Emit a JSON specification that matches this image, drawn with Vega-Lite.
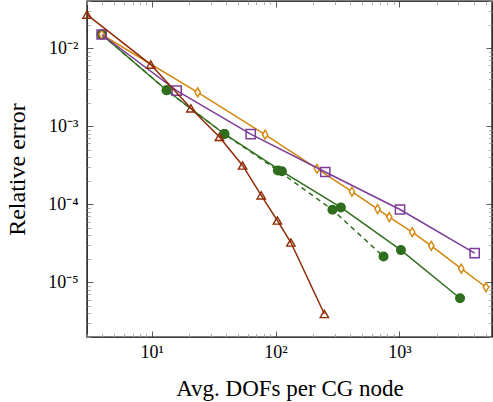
{
  "$schema": "https://vega.github.io/schema/vega-lite/v6.json",
  "width": 405,
  "height": 336,
  "autosize": "none",
  "padding": {"left": 87, "top": 1, "right": 1, "bottom": 65},
  "config": {
    "view": {"stroke": "black", "strokeWidth": 1.4},
    "font": "Liberation Serif",
    "axis": {"domain": false, "grid": false, "labelFont": "Liberation Serif", "titleFont": "Liberation Serif", "labelColor": "black", "titleColor": "black", "titleFontWeight": "normal"}
  },
  "data": {
    "values": [
      {"s": "green", "x": 3.94, "y": 0.0149},
      {"s": "green", "x": 13.2, "y": 0.00288},
      {"s": "green", "x": 38.6, "y": 0.000794},
      {"s": "green", "x": 112.5, "y": 0.000264},
      {"s": "green", "x": 337, "y": 0.000091},
      {"s": "green", "x": 1030, "y": 0.0000259},
      {"s": "green", "x": 3091, "y": 0.00000627},
      {"s": "greendash", "x": 3.94, "y": 0.0149},
      {"s": "greendash", "x": 13.2, "y": 0.00288},
      {"s": "greendash", "x": 38.6, "y": 0.000794},
      {"s": "greendash", "x": 104.4, "y": 0.000271},
      {"s": "greendash", "x": 288, "y": 0.000085},
      {"s": "greendash", "x": 745, "y": 0.0000214},
      {"s": "orange", "x": 3.94, "y": 0.0149},
      {"s": "orange", "x": 23.5, "y": 0.00271},
      {"s": "orange", "x": 82.4, "y": 0.000778},
      {"s": "orange", "x": 216, "y": 0.000285},
      {"s": "orange", "x": 414, "y": 0.000145},
      {"s": "orange", "x": 667, "y": 0.0000867},
      {"s": "orange", "x": 829, "y": 0.0000685},
      {"s": "orange", "x": 1271, "y": 0.000044},
      {"s": "orange", "x": 1811, "y": 0.0000294},
      {"s": "orange", "x": 3164, "y": 0.000015},
      {"s": "orange", "x": 5010, "y": 0.00000867},
      {"s": "purple", "x": 3.94, "y": 0.0149},
      {"s": "purple", "x": 15.9, "y": 0.00285},
      {"s": "purple", "x": 63.0, "y": 0.000789},
      {"s": "purple", "x": 252, "y": 0.000259},
      {"s": "purple", "x": 1012, "y": 0.0000857},
      {"s": "purple", "x": 4056, "y": 0.0000237},
      {"s": "brown", "x": 3.0, "y": 0.0268},
      {"s": "brown", "x": 9.82, "y": 0.00614},
      {"s": "brown", "x": 20.7, "y": 0.00169},
      {"s": "brown", "x": 35.2, "y": 0.000728},
      {"s": "brown", "x": 54.2, "y": 0.000314},
      {"s": "brown", "x": 76.6, "y": 0.00013},
      {"s": "brown", "x": 103.5, "y": 0.0000619},
      {"s": "brown", "x": 133, "y": 0.0000324},
      {"s": "brown", "x": 248, "y": 0.00000394}
    ]
  },
  "layer": [
    {
      "transform": [{"filter": "datum.s == 'green'"}],
      "mark": {"type": "line", "color": "#2f6e1d", "strokeWidth": 1.5, "point": {"filled": true, "shape": "circle", "size": 100, "color": "#2f6e1d"}},
      "encoding": {
        "x": {"field": "x", "type": "quantitative", "scale": {"type": "log", "domain": [3, 5600], "nice": false},
          "axis": {"orient": "bottom", "ticks": false, "values": [10, 100, 1000], "labelExpr": "datum.value == 10 ? '10¹' : datum.value == 100 ? '10²' : '10³'", "labelFontSize": 18, "labelPadding": 6, "labelFlush": false, "title": "Avg. DOFs per CG node", "titleFontSize": 23, "titleY": 51, "titleBaseline": "middle"}},
        "y": {"field": "y", "type": "quantitative", "scale": {"type": "log", "domain": [0.000002, 0.04], "nice": false},
          "axis": {"orient": "left", "ticks": false, "values": [0.01, 0.001, 0.0001, 0.00001], "labelExpr": "datum.value == 0.01 ? '10⁻²' : datum.value == 0.001 ? '10⁻³' : datum.value == 0.0001 ? '10⁻⁴' : '10⁻⁵'", "labelFontSize": 18, "labelPadding": 9, "labelFlush": false, "title": "Relative error", "titleFontSize": 24, "titleX": -70, "titleBaseline": "middle"}}
      }
    },
    {
      "transform": [{"filter": "datum.s == 'greendash'"}],
      "mark": {"type": "line", "color": "#2f6e1d", "strokeWidth": 1.5, "strokeDash": [5, 4], "point": {"filled": true, "shape": "circle", "size": 100, "color": "#2f6e1d"}},
      "encoding": {
        "x": {"field": "x", "type": "quantitative",
          "axis": {"orient": "bottom", "labels": false, "title": null, "values": [3,4,5,6,7,8,9,10,20,30,40,50,60,70,80,90,100,200,300,400,500,600,700,800,900,1000,2000,3000,4000,5000],
            "tickSize": {"condition": {"test": "datum.value == 10 || datum.value == 100 || datum.value == 1000", "value": -6}, "value": -3.5},
            "tickColor": {"condition": {"test": "datum.value == 10 || datum.value == 100 || datum.value == 1000", "value": "#333"}, "value": "#999"}, "tickWidth": 0.8}},
        "y": {"field": "y", "type": "quantitative",
          "axis": {"orient": "left", "labels": false, "title": null, "values": [0.000002,0.000003,0.000004,0.000005,0.000006,0.000007,0.000008,0.000009,0.00001,0.00002,0.00003,0.00004,0.00005,0.00006,0.00007,0.00008,0.00009,0.0001,0.0002,0.0003,0.0004,0.0005,0.0006,0.0007,0.0008,0.0009,0.001,0.002,0.003,0.004,0.005,0.006,0.007,0.008,0.009,0.01,0.02,0.03,0.04],
            "tickSize": {"condition": {"test": "datum.value == 0.01 || datum.value == 0.001 || datum.value == 0.0001 || datum.value == 0.00001", "value": -6}, "value": -3.5},
            "tickColor": {"condition": {"test": "datum.value == 0.01 || datum.value == 0.001 || datum.value == 0.0001 || datum.value == 0.00001", "value": "#333"}, "value": "#999"}, "tickWidth": 0.8}}
      }
    },
    {
      "transform": [{"filter": "datum.s == 'orange'"}],
      "mark": {"type": "line", "color": "#d4860b", "strokeWidth": 1.5, "point": {"filled": false, "shape": "M0,-1L0.6,0L0,1L-0.6,0Z", "size": 80, "strokeWidth": 1.4, "color": "#d4860b", "fill": "white"}},
      "encoding": {
        "x": {"field": "x", "type": "quantitative",
          "axis": {"orient": "top", "labels": false, "title": null, "values": [3,4,5,6,7,8,9,10,20,30,40,50,60,70,80,90,100,200,300,400,500,600,700,800,900,1000,2000,3000,4000,5000],
            "tickSize": {"condition": {"test": "datum.value == 10 || datum.value == 100 || datum.value == 1000", "value": -6}, "value": -3.5},
            "tickColor": {"condition": {"test": "datum.value == 10 || datum.value == 100 || datum.value == 1000", "value": "#333"}, "value": "#999"}, "tickWidth": 0.8}},
        "y": {"field": "y", "type": "quantitative",
          "axis": {"orient": "right", "labels": false, "title": null, "values": [0.000002,0.000003,0.000004,0.000005,0.000006,0.000007,0.000008,0.000009,0.00001,0.00002,0.00003,0.00004,0.00005,0.00006,0.00007,0.00008,0.00009,0.0001,0.0002,0.0003,0.0004,0.0005,0.0006,0.0007,0.0008,0.0009,0.001,0.002,0.003,0.004,0.005,0.006,0.007,0.008,0.009,0.01,0.02,0.03,0.04],
            "tickSize": {"condition": {"test": "datum.value == 0.01 || datum.value == 0.001 || datum.value == 0.0001 || datum.value == 0.00001", "value": -6}, "value": -3.5},
            "tickColor": {"condition": {"test": "datum.value == 0.01 || datum.value == 0.001 || datum.value == 0.0001 || datum.value == 0.00001", "value": "#333"}, "value": "#999"}, "tickWidth": 0.8}}
      }
    },
    {
      "transform": [{"filter": "datum.s == 'purple'"}],
      "mark": {"type": "line", "color": "#7d3c98", "strokeWidth": 1.5, "point": {"filled": false, "shape": "square", "size": 85, "strokeWidth": 1.5, "color": "#7d3c98"}},
      "encoding": {
        "x": {"field": "x", "type": "quantitative", "axis": null},
        "y": {"field": "y", "type": "quantitative", "axis": null}
      }
    },
    {
      "transform": [{"filter": "datum.s == 'brown'"}],
      "mark": {"type": "line", "color": "#8e2a04", "strokeWidth": 1.5, "point": {"filled": false, "shape": "triangle-up", "size": 70, "strokeWidth": 1.4, "color": "#8e2a04"}},
      "encoding": {
        "x": {"field": "x", "type": "quantitative", "axis": null},
        "y": {"field": "y", "type": "quantitative", "axis": null}
      }
    }
  ],
  "resolve": {"axis": {"x": "independent", "y": "independent"}}
}
